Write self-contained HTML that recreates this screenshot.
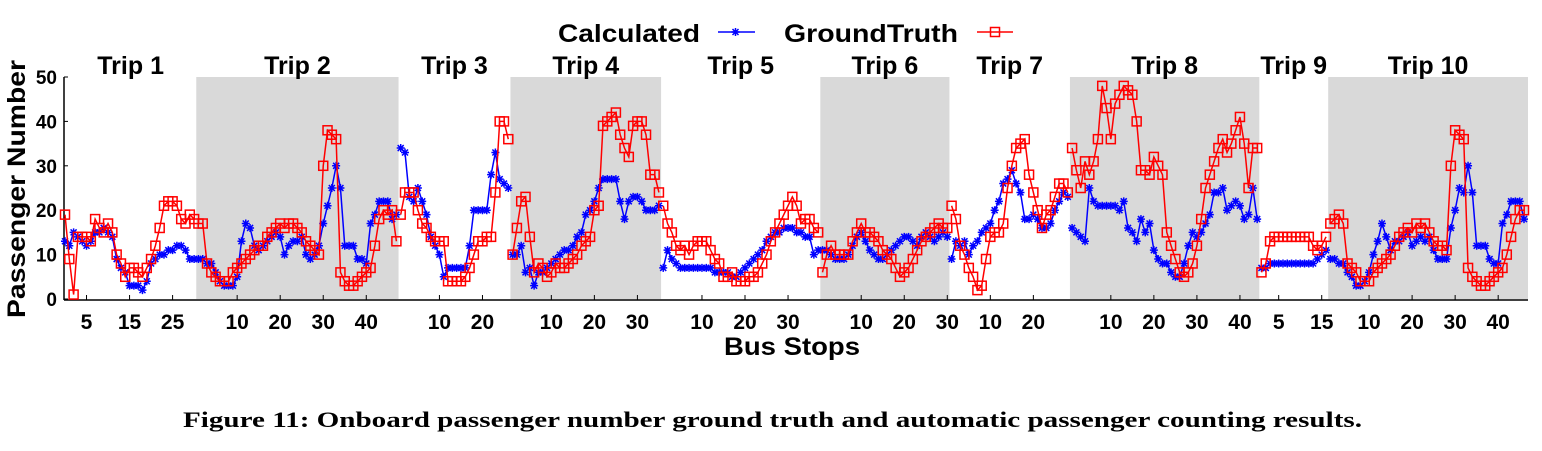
<!DOCTYPE html>
<html><head><meta charset="utf-8"><style>
body{margin:0;background:#fff;width:1542px;height:451px;overflow:hidden}
svg{display:block}
text{font-family:"Liberation Sans",Arial,sans-serif;font-weight:bold;fill:#000}
</style></head><body>
<svg id="chart" width="1542" height="451" viewBox="0 0 1542 451" xmlns="http://www.w3.org/2000/svg">
<g id="bands"></g>
<g id="axes"></g>
<g id="series"></g>
<g>
<text x="558" y="42" font-size="25" textLength="142" lengthAdjust="spacingAndGlyphs">Calculated</text>
<line x1="718" y1="32" x2="755" y2="32" stroke="#0000ff" stroke-width="1.5"/>
<path d="M731.5,32h8M735.5,28v8M732.5,29l6,6M738.5,29l-6,6" stroke="#0000ff" stroke-width="1.5"/>
<text x="784" y="42" font-size="25" textLength="174" lengthAdjust="spacingAndGlyphs">GroundTruth</text>
<line x1="977" y1="32" x2="1013" y2="32" stroke="#ff0000" stroke-width="1.5"/>
<rect x="990.5" y="27.5" width="9" height="9" fill="none" stroke="#ff0000" stroke-width="1.5"/>
</g>
<text x="792" y="355" font-size="25" text-anchor="middle" textLength="136" lengthAdjust="spacingAndGlyphs">Bus Stops</text>
<text transform="translate(25,189) rotate(-90)" font-size="25" text-anchor="middle" textLength="258" lengthAdjust="spacingAndGlyphs">Passenger Number</text>
<text x="183" y="427" font-size="22" textLength="1179" lengthAdjust="spacingAndGlyphs" style="font-family:'Liberation Serif',serif">Figure 11: Onboard passenger number ground truth and automatic passenger counting results.</text>
</svg>
<script>
const tripNames=["Trip 1","Trip 2","Trip 3","Trip 4","Trip 5","Trip 6","Trip 7","Trip 8","Trip 9","Trip 10"];
const gt1=[19,9,1,14,14,14,13,18,16,15,17,15,10,8,5,7,7,6,5,7,9,12,16,21,22,22,21,18,17,19,18];
const gt2=[17,17,8,6,5,4,4,4,6,7,8,9,10,11,12,12,14,15,16,17,16,17,17,16,15,13,12,11,10,30,38,37,36,6,4,3,3,4,5,6,7,12,18,20,19,20,13];
const gt3=[19,24,24,24,20,17,16,14,13,13,13,4,4,4,4,5,7,10,13,13,14,14,24,40,40,36];
const gt4=[10,16,22,23,14,6,8,7,5,6,8,7,7,8,9,10,12,13,14,20,21,39,40,41,42,37,34,32,39,40,40,37,28,28,24];
const gt5=[21,17,15,12,11,12,10,12,13,13,13,11,9,8,5,5,6,4,4,4,5,5,6,8,10,13,15,17,19,21,23,21,17,18,18,16,15];
const gt6=[6,10,12,10,10,10,10,13,15,17,15,15,14,13,11,10,9,7,5,6,7,9,11,13,14,15,16,17,16,16];
const gt7=[21,18,12,10,7,5,2,3,9,14,15,15,17,25,30,34,35,36,28,24,20,16,19,20,23,26,26,24];
const gt8=[34,29,25,31,28,31,36,48,43,36,44,46,48,47,46,40,29,29,28,32,30,28,15,12,9,6,5,6,8,12,18,25,28,31,34,36,33,35,38,41,35,25,34,34];
const gt9=[6,8,13,14,14,14,14,14,14,14,14,14,12,11,12,14];
const gt10=[17,18,19,17,8,7,6,4,4,4,6,7,8,9,10,12,14,15,16,15,17,16,17,15,13,12,12,11,30,38,37,36,7,5,4,3,3,4,5,6,7,10,14,18,20,20,19,13].slice(0,46);
const ca1=[13,12,15,14,13,12,13,15,15,16,15,14,9,7,6,3,3,3,2,4,8,9,10,10,11,11,12,12,11,9,9];
const ca2=[9,9,8,8,6,4,3,3,3,5,13,17,16,12,11,12,13,14,15,14,10,12,13,13,14,10,9,10,12,17,21,25,30,25,12,12,12,9,9,8,17,19,22,22,22,18,19];
const ca3=[34,33,23,22,25,22,19,14,12,10,5,7,7,7,7,7,12,20,20,20,20,28,33,27,26,25];
const ca4=[10,10,12,6,7,3,6,6,7,8,9,10,11,11,12,14,15,19,20,22,25,27,27,27,27,22,18,22,23,23,22,20,20,20,21];
const ca5=[7,11,9,8,7,7,7,7,7,7,7,7,6,6,6,6,5,5,6,7,8,9,10,11,13,14,15,15,16,16,16,15,15,14,14,10,11];
const ca6=[11,11,10,9,9,9,10,12,14,15,13,11,10,9,9,10,11,12,13,14,14,13,12,14,15,14,13,14,15,14];
const ca7=[9,13,12,13,10,12,13,15,16,17,20,22,26,27,29,26,24,18,18,19,18,16,16,17,20,22,24,23];
const ca8=[16,15,14,13,25,22,21,21,21,21,21,20,22,16,15,13,18,15,17,11,9,8,8,6,5,5,8,12,15,14,15,17,19,24,24,25,20,21,22,21,18,19,25,18];
const ca9=[7,7,8,8,8,8,8,8,8,8,8,8,8,9,10,11];
const ca10=[9,9,8,8,6,5,3,3,4,6,10,13,17,14,11,13,13,14,15,12,13,14,13,14,11,9,9,9,16,20,25,24,30,24,12,12,12,9,8,8,17,19,22,22,22,18];
const tickLabels=[[5,15,25],[10,20,30,40],[10,20],[10,20,30],[10,20,30],[10,20,30],[10,20],[10,20,30,40],[5,15],[10,20,30,40]];
const yTicks=[0,10,20,30,40,50];
const gts=[gt1,gt2,gt3,gt4,gt5,gt6,gt7,gt8,gt9,gt10];
const cas=[ca1,ca2,ca3,ca4,ca5,ca6,ca7,ca8,ca9,ca10];

const NS="http://www.w3.org/2000/svg";
function mk(t,a,p){const e=document.createElementNS(NS,t);for(const k in a)e.setAttribute(k,a[k]);p.appendChild(e);return e;}
const X0=65,X1=1524,Y0=299,Y1=77;
const lens=gts.map(a=>a.length);
const N=lens.reduce((s,v)=>s+v,0);
const step=(X1-X0)/(N-1);
const xs=g=>X0+g*step;
const ys=v=>Y0-(v/50)*(Y0-Y1);
const starts=[];let acc=0;lens.forEach(l=>{starts.push(acc);acc+=l;});

const bands=document.getElementById('bands'),axes=document.getElementById('axes'),ser=document.getElementById('series');
tripNames.forEach((nm,t)=>{
  const a=t===0?X0:xs(starts[t]-0.5), b=t===9?X1+4:xs(starts[t]+lens[t]-0.5);
  if(t%2===1){
    const r=mk('rect',{x:a,y:Y1,width:b-a,height:Y0-Y1,fill:'#d9d9d9'},bands);
    
    
  }
  const tt=mk('text',{x:(a+b)/2,y:74,'font-size':25,'text-anchor':'middle'},axes);
  tt.textContent=nm;
  
  
  tickLabels[t].forEach(k=>{
    const idx=t===0?k:k-1;
    const x=xs(starts[t]+idx);
    mk('line',{x1:x,y1:Y0+1,x2:x,y2:Y0-4,stroke:'#000','stroke-width':1},axes);
    const lb=mk('text',{x:x,y:329,'font-size':21,'text-anchor':'middle'},axes);
    lb.textContent=k;
    
    
  });
});
mk('line',{x1:X0-1,y1:Y1,x2:X0-1,y2:Y0+1,stroke:'#000','stroke-width':1.5},axes);
mk('line',{x1:X0-1,y1:Y0+1,x2:X1+4,y2:Y0+1,stroke:'#000','stroke-width':1.5},axes);
yTicks.forEach(v=>{
  const y=ys(v);
  mk('line',{x1:X0-1,y1:y,x2:X0+3,y2:y,stroke:'#000'},axes);
  const lb=mk('text',{x:57,y:y+7,'font-size':19,'text-anchor':'end'},axes);
  lb.textContent=v;
  
  
});
function draw(arrs,color,kind){
  arrs.forEach((arr,t)=>{
    const pts=arr.map((v,i)=>[xs(starts[t]+i),ys(v)]);
    const pl=mk('polyline',{points:pts.map(p=>p.join(',')).join(' '),fill:'none',stroke:color,'stroke-width':1.5},ser);
    
    
    pts.forEach(([x,y])=>{
      let m;
      if(kind==='groundtruth'){
        m=mk('rect',{x:x-4.5,y:y-4.5,width:9,height:9,fill:'none',stroke:color,'stroke-width':1.5},ser);
      }else{
        m=mk('path',{d:`M${x-4},${y}h8M${x},${y-4}v8M${x-3},${y-3}l6,6M${x+3},${y-3}l-6,6`,stroke:color,'stroke-width':1.5},ser);
      }
      
      
    });
  });
}
draw(cas,'#0000ff','calculated');
draw(gts,'#ff0000','groundtruth');
</script>
</body></html>
